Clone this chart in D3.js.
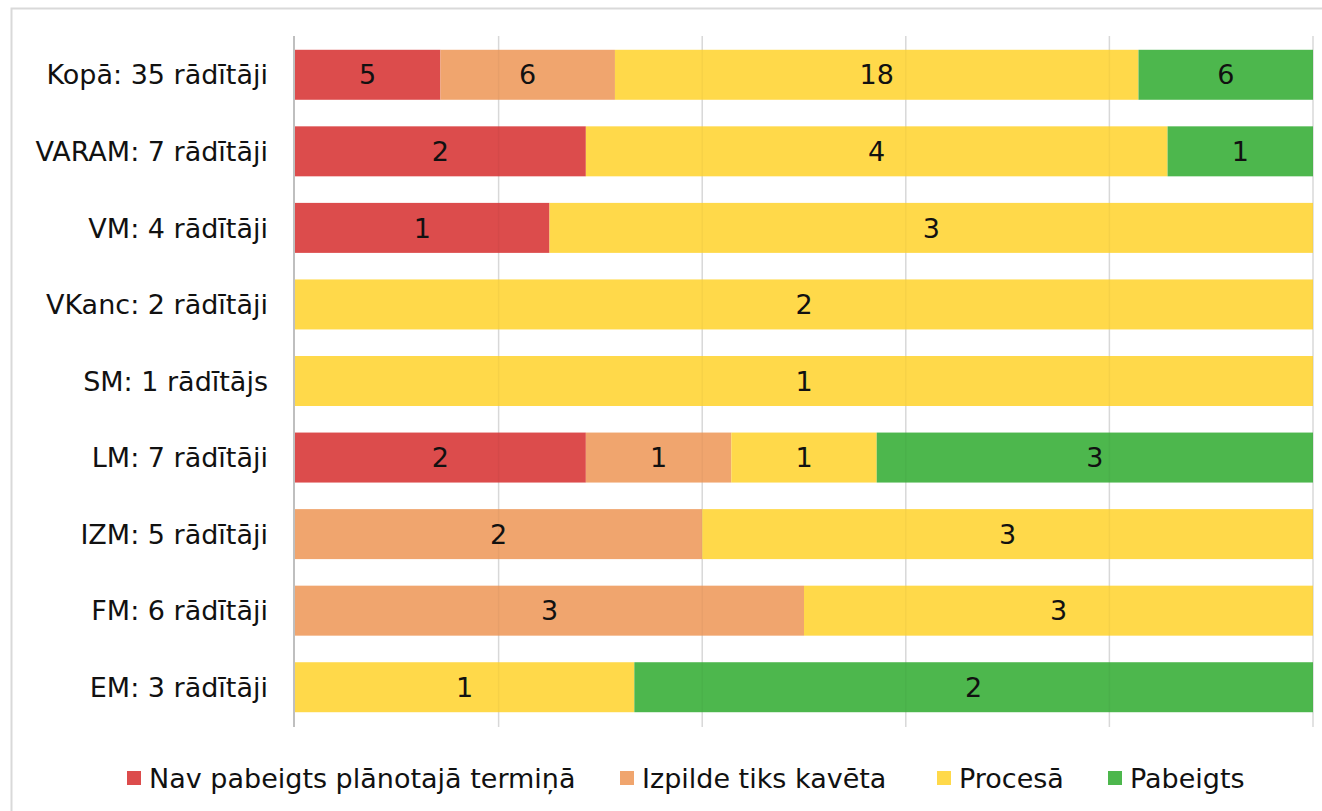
<!DOCTYPE html>
<html><head><meta charset="utf-8">
<script src="https://cdn.jsdelivr.net/npm/d3@7"></script>
<style>body{margin:0;background:#fff}svg{display:block}</style>
</head><body>
<svg id="c" width="1322" height="811"></svg>
<script>
const categories = ["Kopā: 35 rādītāji","VARAM: 7 rādītāji","VM: 4 rādītāji","VKanc: 2 rādītāji","SM: 1 rādītājs","LM: 7 rādītāji","IZM: 5 rādītāji","FM: 6 rādītāji","EM: 3 rādītāji"];
const seriesNames = ["Nav pabeigts plānotajā termiņā","Izpilde tiks kavēta","Procesā","Pabeigts"];
const navPabeigts = [5,2,1,0,0,2,0,0,0];
const izpildeKaveta = [6,0,0,0,0,1,2,3,0];
const procesa = [18,4,3,2,1,1,3,3,1];
const pabeigts = [6,1,0,0,0,3,0,0,2];
const colors = ["#DC4C4C","#F0A56E","#FFD94A","#4DB74D"];

const seriesVals = [navPabeigts, izpildeKaveta, procesa, pabeigts];
const rows = categories.map((c,i)=>{
  const o = {cat:c};
  seriesNames.forEach((s,j)=>o[s]=seriesVals[j][i]);
  o.total = seriesVals.reduce((a,v)=>a+v[i],0);
  return o;
});
const norm = rows.map(r=>{const o={cat:r.cat}; seriesNames.forEach(s=>o[s]=r[s]/r.total); return o;});
const stack = d3.stack().keys(seriesNames)(norm);

const svg = d3.select("#c");
const font = "'DejaVu Sans', Verdana, sans-serif";
const fs = 27;
svg.append("rect").attr("x",11.5).attr("y",8.5).attr("width",1330).attr("height",830)
  .attr("fill","#fff").attr("stroke","#d9d9d9").attr("stroke-width",2);

const x = d3.scaleLinear().domain([0,1]).range([295,1313]);
const y = d3.scaleBand().domain(categories).range([36,726]).paddingInner(0.347).paddingOuter(0.18);

// gridlines
svg.append("g").selectAll("line").data(d3.range(0.2,1.01,0.2)).join("line")
  .attr("x1",d=>x(d)).attr("x2",d=>x(d)).attr("y1",36).attr("y2",727)
  .attr("stroke","#e0e0e0").attr("stroke-width",1.5);

const g = svg.append("g");
stack.forEach((s,j)=>{
  g.append("g").selectAll("rect").data(s).join("rect")
    .attr("x",d=>x(d[0])).attr("width",d=>x(d[1])-x(d[0]))
    .attr("y",d=>y(d.data.cat)).attr("height",y.bandwidth())
    .attr("fill",colors[j]);
  g.append("g").selectAll("text").data(s.map((d,i)=>({d,v:seriesVals[j][i]})).filter(e=>e.v>0)).join("text")
    .attr("x",e=>(x(e.d[0])+x(e.d[1]))/2).attr("y",e=>y(e.d.data.cat)+y.bandwidth()/2)
    .attr("dy","0.36em").attr("text-anchor","middle")
    .attr("font-family",font).attr("font-size",fs).attr("fill","#111")
    .text(e=>e.v);
});

// faint gridlines through bars
svg.append("g").selectAll("line").data(d3.range(0.2,1.01,0.2)).join("line")
  .attr("x1",d=>x(d)).attr("x2",d=>x(d)).attr("y1",36).attr("y2",727)
  .attr("stroke","#000").attr("stroke-opacity",0.035).attr("stroke-width",1.5);

// axis line
svg.append("line").attr("x1",294).attr("x2",294).attr("y1",36).attr("y2",727)
  .attr("stroke","#bfbfbf").attr("stroke-width",2);

// category labels
svg.append("g").selectAll("text").data(categories).join("text")
  .attr("x",268).attr("y",d=>y(d)+y.bandwidth()/2).attr("dy","0.36em")
  .attr("text-anchor","end").attr("font-family",font).attr("font-size",fs).attr("fill","#111")
  .text(d=>d);

// legend
const legX = [127,620,937,1108];
const leg = svg.append("g").selectAll("g").data(seriesNames).join("g")
  .attr("transform",(d,i)=>`translate(${legX[i]},778)`);
leg.append("rect").attr("x",0).attr("y",-7).attr("width",14).attr("height",14).attr("fill",(d,i)=>colors[i]);
leg.append("text").attr("x",22).attr("y",0).attr("dy","0.36em")
  .attr("font-family",font).attr("font-size",fs).attr("fill","#111").text(d=>d);
</script>
</body></html>
